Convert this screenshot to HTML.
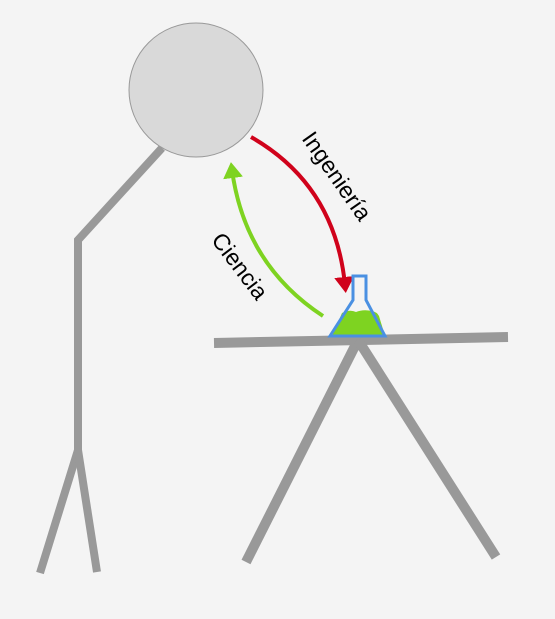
<!DOCTYPE html>
<html><head><meta charset="utf-8"><style>
html,body{margin:0;padding:0;background:#f4f4f4;}
svg{display:block;}
text{font-family:"Liberation Sans",sans-serif;font-size:23px;fill:#000;}
</style></head><body>
<svg width="555" height="619" viewBox="0 0 555 619">
<defs>
<marker id="ar" markerWidth="4" markerHeight="5" refX="2" refY="2.5" orient="auto" markerUnits="strokeWidth"><path d="M0,0 L4,2.5 L0,5 z" fill="#d0021b"/></marker>
<marker id="ag" markerWidth="4" markerHeight="5" refX="2" refY="2.5" orient="auto" markerUnits="strokeWidth"><path d="M0,0 L4,2.5 L0,5 z" fill="#7ed321"/></marker>
</defs>
<rect width="555" height="619" fill="#f4f4f4"/>
<g stroke="#999" stroke-width="8" fill="none" stroke-linecap="butt">
<polyline points="162,148 78,240 78,450 40,573"/>
<line x1="78" y1="450" x2="97" y2="572"/>
</g>
<circle cx="196" cy="90" r="67" fill="#d9d9d9" stroke="#999" stroke-width="1"/>
<g stroke="#999" stroke-width="10" fill="none">
<line x1="214" y1="343" x2="508" y2="337"/>
<line x1="358" y1="340" x2="246" y2="562"/>
<line x1="358" y1="340" x2="496" y2="557"/>
</g>
<path d="M251,137 Q335,185 345,285" stroke="#d0021b" stroke-width="4" fill="none" marker-end="url(#ar)"/>
<path d="M323,316 Q245,265 232,170" stroke="#7ed321" stroke-width="4" fill="none" marker-end="url(#ag)"/>
<path d="M332,336 L342,313 Q350,309 356,312 Q363,309 372,311 Q377,312 379,316 L385,336 Z" fill="#7ed321"/>
<path d="M353,276 L366,276 L366,300 L385,336 L330,336 L353,300 Z" fill="none" stroke="#4a90e2" stroke-width="3" stroke-linejoin="miter"/>
<text x="337" y="184" text-anchor="middle" transform="rotate(55 337 176)">Ingeniería</text>
<text x="240" y="274" text-anchor="middle" transform="rotate(53 240 266)">Ciencia</text>
</svg>
</body></html>
